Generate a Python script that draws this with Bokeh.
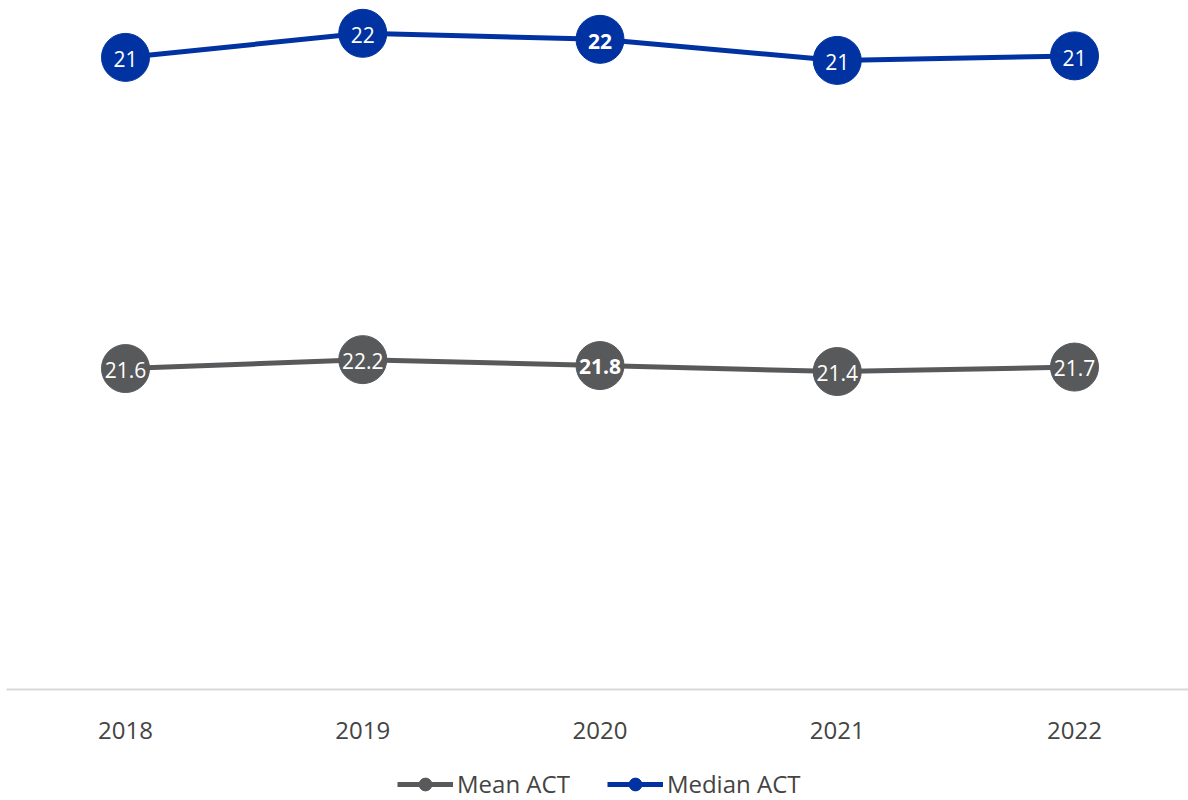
from bokeh.plotting import figure
from bokeh.layouts import column
from bokeh.models import Range1d, ColumnDataSource, Legend, LegendItem, FixedTicker
from bokeh.core.properties import value
from bokeh.embed import file_html
from bokeh.resources import INLINE

years = [2018, 2019, 2020, 2021, 2022]
mean_act = [21.6, 22.2, 21.8, 21.4, 21.7]
median_act = [21.0, 21.8, 21.6, 20.9, 21.05]
series_names = ["Mean ACT", "Median ACT"]
highlight_year = 2020

MEAN_COLOR = "#58595B"
MEDIAN_COLOR = "#0033A1"
FONT = "Open Sans"

p = figure(width=1188, height=760, output_backend="svg", toolbar_location=None,
           x_range=Range1d(2017.4984, 2022.4805), y_range=Range1d(0, 46.37),
           min_border_left=6, min_border_right=0, min_border_top=0, min_border_bottom=71)
p.extra_y_ranges = {"median": Range1d(0, 22.89)}
p.outline_line_color = None
p.xgrid.visible = False
p.ygrid.visible = False
p.yaxis.visible = False

styles = ["bold" if y == highlight_year else "normal" for y in years]
mean_src = ColumnDataSource(dict(x=years, y=mean_act,
                                 lab=[f"{v:.1f}" for v in mean_act], st=styles))
med_src = ColumnDataSource(dict(x=years, y=median_act,
                                lab=[f"{v:.0f}" for v in median_act], st=styles))

p.line("x", "y", source=mean_src, line_color=MEAN_COLOR, line_width=5)
p.scatter("x", "y", source=mean_src, size=48, fill_color=MEAN_COLOR, line_color=MEAN_COLOR)
p.text("x", "y", text="lab", source=mean_src, text_color="white", text_font=value(FONT),
       text_font_size="21px", text_align="center", text_baseline="middle",
       text_font_style="st", y_offset=1)

p.line("x", "y", source=med_src, line_color=MEDIAN_COLOR, line_width=5, y_range_name="median")
p.scatter("x", "y", source=med_src, size=48, fill_color=MEDIAN_COLOR, line_color=MEDIAN_COLOR,
          y_range_name="median")
p.text("x", "y", text="lab", source=med_src, text_color="white", text_font=value(FONT),
       text_font_size="21px", text_align="center", text_baseline="middle",
       text_font_style="st", y_offset=2, y_range_name="median")

xa = p.xaxis[0]
xa.ticker = FixedTicker(ticks=years)
xa.axis_line_color = "#D9D9D9"
xa.axis_line_width = 2
xa.major_tick_line_color = None
xa.minor_tick_line_color = None
xa.major_label_text_font = FONT
xa.major_label_text_font_size = "24px"
xa.major_label_text_color = "#444444"
xa.major_label_standoff = 26

# legend strip below the chart
lg = figure(width=1188, height=40, output_backend="svg", toolbar_location=None,
            x_range=Range1d(0, 1), y_range=Range1d(0, 1),
            min_border_left=0, min_border_right=0, min_border_top=0, min_border_bottom=0)
lg.outline_line_color = None
lg.axis.visible = False
lg.grid.visible = False
items = []
for name, color in zip(series_names, [MEAN_COLOR, MEDIAN_COLOR]):
    r1 = lg.line(x=[-10, -9], y=[-10, -9], line_color=color, line_width=5)
    r2 = lg.scatter(x=[-10], y=[-10], size=10, fill_color=color, line_color=color)
    items.append(LegendItem(label=name, renderers=[r1, r2]))
legend = Legend(items=items, orientation="horizontal", location=(391, 0),
                glyph_width=56, glyph_height=32, label_standoff=4, spacing=37,
                padding=0, margin=0, border_line_color=None, background_fill_alpha=0,
                label_text_font=FONT, label_text_font_size="24px", label_text_color="#444444")
lg.add_layout(legend, "center")

layout = column(p, lg, spacing=0)
open("out.html", "w").write(file_html(layout, INLINE))
